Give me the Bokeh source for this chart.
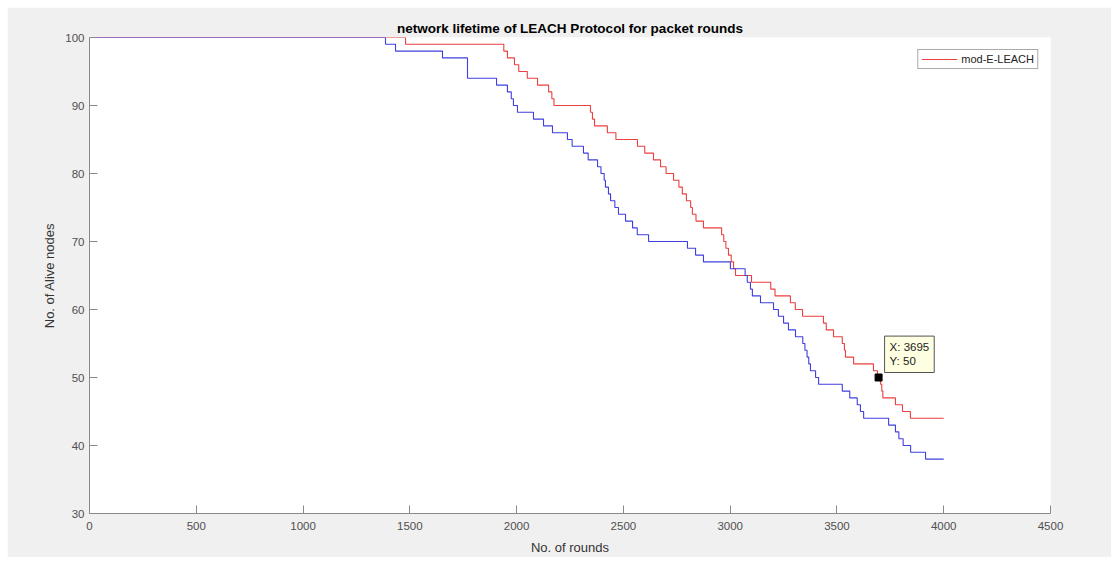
from bokeh.plotting import figure
from bokeh.models import Label, Range1d, Spacer, Legend, LegendItem, FixedTicker
from bokeh.layouts import column, row
from bokeh.embed import file_html
from bokeh.resources import INLINE

# Alive-node counts per round (value holds from each round until the next change)
rounds_mod = [0, 1480, 1940, 1957, 1990, 2010, 2050, 2098, 2150, 2165, 2175,
              2346, 2355, 2365, 2425, 2465, 2566, 2600, 2641, 2674, 2700, 2735,
              2760, 2776, 2795, 2815, 2823, 2840, 2875, 2960, 2970, 2980, 2992,
              3005, 3016, 3025, 3100, 3190, 3210, 3282, 3305, 3339, 3437, 3450,
              3484, 3525, 3535, 3540, 3578, 3671, 3690, 3704, 3710, 3715, 3774,
              3807, 3844, 4000]
alive_mod = [100, 99, 98, 97, 96, 95, 94, 93, 92, 91, 90,
             89, 88, 87, 86, 85, 84, 83, 82, 81, 80, 79,
             78, 77, 76, 75, 74, 73, 72, 71, 70, 69, 68,
             67, 66, 65, 64, 63, 62, 61, 60, 59, 58, 57,
             56, 55, 54, 53, 52, 51, 50, 49, 48, 47, 46,
             45, 44, 44]

rounds_leach = [0, 1386, 1433, 1653, 1770, 1906, 1957, 1975, 1985, 2004, 2079,
                2126, 2168, 2238, 2260, 2313, 2335, 2379, 2395, 2410, 2416, 2430,
                2440, 2460, 2477, 2510, 2543, 2565, 2618, 2800, 2838, 2875, 3001,
                3070, 3080, 3095, 3104, 3142, 3203, 3226, 3250, 3273, 3306, 3340,
                3350, 3360, 3368, 3376, 3400, 3414, 3525, 3560, 3595, 3610, 3625,
                3742, 3774, 3790, 3810, 3845, 3915, 4000]
alive_leach = [100, 99, 98, 97, 94, 93, 92, 91, 90, 89, 88,
               87, 86, 85, 84, 83, 82, 81, 80, 79, 78, 77,
               76, 75, 74, 73, 72, 71, 70, 69, 68, 67, 66,
               65, 64, 63, 62, 61, 60, 59, 58, 57, 56, 55,
               54, 53, 52, 51, 50, 49, 48, 47, 46, 45, 44,
               43, 42, 41, 40, 39, 38, 38]

x_ticks = [0, 500, 1000, 1500, 2000, 2500, 3000, 3500, 4000, 4500]
y_ticks = [30, 40, 50, 60, 70, 80, 90, 100]

tip_x = 3695
tip_y = 50

FONT = "Liberation Sans"
TICK_COL = "#4f4f4f"
AXIS_COL = "#8a8a8a"

p = figure(width=1104, height=550, output_backend="svg", toolbar_location=None,
           x_range=Range1d(0, 4500), y_range=Range1d(30, 100),
           min_border_left=82, min_border_right=61, min_border_top=30,
           min_border_bottom=43,
           title="network lifetime of LEACH Protocol for packet rounds")

p.background_fill_color = "white"
p.border_fill_color = "#f0f0f0"
p.outline_line_color = None
p.grid.visible = False

p.title.align = "center"
p.title.text_font = FONT
p.title.text_font_size = "13.5px"
p.title.text_font_style = "bold"
p.title.text_color = "black"
p.title.standoff = 4

for ax in (p.xaxis[0], p.yaxis[0]):
    ax.axis_line_color = AXIS_COL
    ax.major_tick_line_color = AXIS_COL
    ax.minor_tick_line_color = None
    ax.major_tick_in = 8
    ax.major_tick_out = 0
    ax.major_label_text_font = FONT
    ax.major_label_text_font_size = "11.5px"
    ax.major_label_text_color = TICK_COL
    ax.axis_label_text_font = FONT
    ax.axis_label_text_font_size = "13px"
    ax.axis_label_text_font_style = "normal"
    ax.axis_label_text_color = "#333333"

p.xaxis.ticker = FixedTicker(ticks=x_ticks)
p.yaxis.ticker = FixedTicker(ticks=y_ticks)
p.xaxis.axis_label = "No. of rounds"
p.yaxis.axis_label = "No. of Alive nodes"
p.xaxis.major_label_standoff = 8
p.xaxis.axis_label_standoff = 7
p.yaxis.major_label_standoff = 5
p.yaxis.axis_label_standoff = 5

r_mod = p.step(rounds_mod, alive_mod, mode="after", line_color="#ec3f3f",
               line_width=1.1)
p.step(rounds_leach, alive_leach, mode="after", line_color="#3f3fe0",
       line_width=1.1)

legend = Legend(items=[LegendItem(label="mod-E-LEACH", renderers=[r_mod])],
                location="top_right")
legend.margin = 12
legend.padding = 3
legend.spacing = 0
legend.glyph_width = 36
legend.glyph_height = 12
legend.label_height = 12
legend.label_standoff = 4
legend.label_text_font = FONT
legend.label_text_font_size = "11px"
legend.label_text_color = "#222222"
legend.border_line_color = "#555555"
legend.background_fill_alpha = 1
p.add_layout(legend)

# data tip on the mod-E-LEACH curve
p.scatter([tip_x], [tip_y], marker="square", size=7, color="black")
tip = Label(x=tip_x, y=tip_y, x_offset=6, y_offset=5,
            text=f"X: {tip_x}\nY: {tip_y}",
            text_font=FONT, text_font_size="11.5px", text_color="#222222",
            text_baseline="bottom", text_align="left",
            background_fill_color="#ffffe1", background_fill_alpha=1,
            border_line_color="#555555", padding=5)
p.add_layout(tip)

page = column(Spacer(height=7), row(Spacer(width=7), p))
open("out.html", "w").write(file_html(page, INLINE))
